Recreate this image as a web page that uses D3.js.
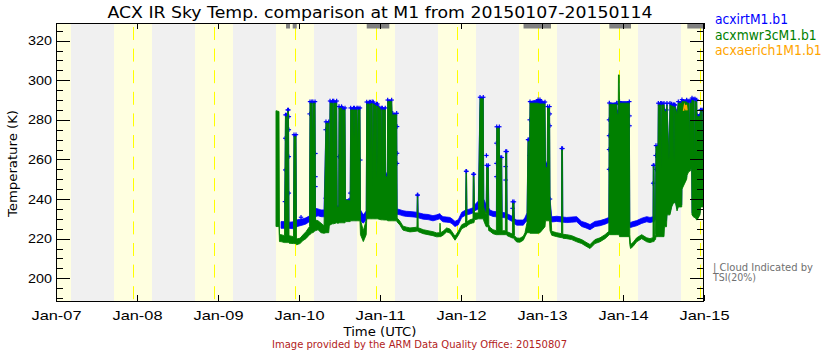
<!DOCTYPE html>
<html>
<head>
<meta charset="utf-8">
<script src="https://cdn.jsdelivr.net/npm/d3@7"></script>
<style>
  html, body { margin: 0; padding: 0; background: #ffffff; }
  svg { display: block; font-family: "DejaVu Sans", sans-serif; }
</style>
</head>
<body>
<svg id="chart" width="840" height="350"></svg>
<script>
// Sample times as fractional day of January 2015 (UTC).
// Each sample carries the min/max of the readings inside that interval.
const sampleDay = [
  9.716, 9.753, 9.759, 9.778, 9.821, 9.833, 9.848, 9.854, 9.860, 9.870,
  9.877, 9.932, 9.938, 9.963, 9.969, 10.012, 10.049, 10.086, 10.130, 10.136,
  10.158, 10.165, 10.172, 10.198, 10.204, 10.235, 10.272, 10.309, 10.333, 10.367,
  10.373, 10.383, 10.415, 10.422, 10.429, 10.465, 10.472, 10.490, 10.494, 10.525,
  10.531, 10.537, 10.568, 10.574, 10.632, 10.638, 10.673, 10.679, 10.685, 10.715,
  10.722, 10.729, 10.753, 10.759, 10.794, 10.830, 10.836, 10.868, 10.875, 10.882,
  10.903, 10.910, 10.917, 10.955, 10.962, 10.969, 11.015, 11.022, 11.029, 11.065,
  11.069, 11.090, 11.095, 11.144, 11.151, 11.157, 11.206, 11.212, 11.247, 11.284,
  11.327, 11.370, 11.420, 11.456, 11.461, 11.467, 11.472, 11.535, 11.593, 11.654,
  11.700, 11.737, 11.741, 11.747, 11.778, 11.823, 11.864, 11.889, 11.926, 11.967,
  12.009, 12.056, 12.062, 12.068, 12.074, 12.111, 12.148, 12.152, 12.160, 12.167,
  12.214, 12.235, 12.275, 12.281, 12.311, 12.317, 12.337, 12.343, 12.358, 12.395,
  12.437, 12.441, 12.473, 12.479, 12.484, 12.502, 12.509, 12.548, 12.552, 12.564,
  12.570, 12.635, 12.638, 12.654, 12.660, 12.688, 12.728, 12.769, 12.790, 12.815,
  12.827, 12.836, 12.843, 12.852, 12.951, 12.975, 13.037, 13.043, 13.065, 13.069,
  13.093, 13.099, 13.120, 13.181, 13.241, 13.243, 13.253, 13.257, 13.305, 13.367,
  13.428, 13.490, 13.543, 13.593, 13.654, 13.716, 13.778, 13.825, 13.831, 13.922,
  13.928, 13.941, 13.944, 13.953, 13.957, 14.078, 14.084, 14.093, 14.123, 14.169,
  14.231, 14.293, 14.333, 14.370, 14.374, 14.383, 14.389, 14.401, 14.407, 14.432,
  14.436, 14.465, 14.472, 14.479, 14.506, 14.512, 14.537, 14.543, 14.568, 14.580,
  14.601, 14.623, 14.630, 14.637, 14.642, 14.667, 14.683, 14.725, 14.728, 14.786,
  14.790, 14.814, 14.821, 14.828, 14.848, 14.852, 14.876, 14.883, 14.890, 14.910,
  14.914, 14.951, 14.957, 14.972, 14.979, 14.986, 15.000
];

// acxmwr3cM1.b1 sky brightness temperature (K), interval min / max
const mwrLow = [
  226.1, 226.1, 218.5, 218.5, 218.0, 218.0, 218.0, 218.0, 218.0, 218.0,
  217.7, 217.5, 217.5, 217.5, 216.9, 217.5, 219.0, 220.0, 222.0, 222.0,
  223.0, 223.0, 223.0, 224.0, 224.0, 224.5, 223.0, 222.7, 223.0, 223.0,
  226.0, 227.0, 227.5, 227.5, 227.5, 228.0, 227.8, 227.8, 228.0, 228.0,
  228.0, 228.0, 228.0, 228.6, 228.6, 229.0, 229.0, 229.0, 229.0, 229.0,
  229.0, 229.0, 229.0, 222.0, 218.5, 222.0, 230.0, 230.0, 230.0, 230.0,
  230.0, 230.0, 230.0, 230.0, 230.0, 230.0, 229.5, 229.5, 229.5, 229.4,
  229.4, 229.4, 229.0, 229.0, 229.0, 229.0, 229.0, 228.4, 226.8, 224.3,
  223.8, 223.4, 223.6, 223.8, 223.8, 223.8, 223.5, 222.5, 222.0, 221.5,
  220.9, 221.0, 221.0, 221.0, 221.7, 223.4, 222.8, 221.5, 219.2, 221.7,
  225.0, 226.0, 226.0, 226.0, 226.5, 227.5, 228.0, 228.0, 228.0, 229.5,
  230.0, 230.0, 230.0, 229.0, 226.0, 226.0, 226.0, 224.0, 223.7, 222.5,
  222.0, 222.0, 222.0, 222.0, 222.0, 222.0, 222.0, 222.0, 222.0, 222.0,
  221.5, 220.3, 220.3, 220.3, 219.5, 218.3, 218.2, 219.2, 221.0, 223.0,
  223.0, 223.0, 223.0, 222.7, 222.7, 223.0, 226.0, 229.0, 229.0, 229.0,
  229.0, 224.0, 221.7, 221.0, 220.5, 220.5, 220.5, 220.2, 220.0, 219.5,
  218.4, 217.5, 216.2, 215.0, 217.5, 218.4, 220.0, 221.7, 222.0, 222.0,
  222.0, 222.0, 222.0, 222.0, 221.0, 221.0, 217.0, 215.0, 216.0, 218.4,
  220.0, 218.4, 218.0, 218.5, 218.5, 218.5, 219.0, 219.5, 221.0, 221.0,
  221.0, 221.0, 221.0, 221.0, 221.0, 226.0, 226.0, 232.0, 232.0, 232.0,
  236.0, 238.0, 238.0, 238.0, 239.6, 234.0, 236.0, 236.0, 245.0, 250.0,
  252.0, 254.0, 254.0, 254.0, 256.0, 232.0, 230.7, 230.7, 230.7, 229.4,
  229.4, 232.0, 236.0, 236.0, 236.0, 236.0, 236.0
];
const mwrHigh = [
  284.6, 284.2, 222.0, 222.0, 221.5, 281.6, 281.6, 222.0, 284.2, 284.2,
  221.5, 221.0, 271.5, 271.5, 219.8, 220.2, 221.9, 223.5, 226.1, 288.4,
  288.4, 262.0, 288.4, 288.4, 229.4, 229.0, 227.8, 226.5, 278.3, 278.3,
  236.0, 288.4, 288.4, 258.0, 288.4, 288.4, 236.0, 236.0, 285.9, 285.9,
  250.0, 285.0, 285.0, 239.6, 239.0, 285.0, 285.0, 270.0, 285.0, 285.0,
  262.0, 285.0, 285.0, 229.4, 224.0, 229.4, 288.0, 288.0, 255.0, 288.0,
  288.4, 245.0, 288.0, 287.0, 250.0, 287.0, 285.0, 248.0, 285.0, 285.0,
  251.3, 251.3, 289.2, 289.2, 279.9, 282.5, 282.5, 230.4, 228.8, 226.3,
  225.8, 225.4, 225.6, 225.8, 241.2, 241.2, 225.5, 224.5, 224.0, 223.5,
  222.9, 223.0, 227.8, 223.0, 223.7, 225.4, 224.8, 223.5, 221.2, 223.7,
  227.0, 228.0, 253.0, 253.0, 228.5, 229.5, 230.0, 251.3, 251.3, 233.0,
  233.0, 290.6, 290.6, 236.0, 232.0, 255.8, 255.8, 227.0, 225.7, 224.5,
  224.0, 275.8, 275.8, 240.0, 260.6, 260.6, 224.0, 224.0, 263.1, 263.1,
  223.5, 222.3, 237.9, 237.9, 221.5, 220.3, 220.2, 221.2, 223.0, 228.0,
  269.0, 269.0, 240.0, 288.4, 288.4, 288.0, 288.0, 256.0, 256.0, 285.9,
  285.9, 240.0, 223.7, 223.0, 222.5, 264.8, 264.8, 222.2, 222.0, 221.5,
  220.4, 219.5, 218.2, 217.0, 219.5, 220.4, 222.0, 223.7, 287.8, 287.8,
  283.0, 283.0, 302.7, 302.7, 288.4, 288.4, 222.0, 217.0, 218.0, 220.4,
  222.0, 220.4, 220.0, 220.5, 256.4, 256.4, 221.0, 222.0, 266.5, 266.5,
  287.5, 287.5, 255.0, 287.5, 287.5, 284.2, 284.2, 287.5, 260.0, 287.5,
  287.0, 286.7, 258.0, 286.6, 286.5, 283.0, 288.4, 288.4, 289.2, 289.0,
  288.4, 288.4, 268.0, 288.4, 288.4, 290.0, 289.5, 250.0, 289.5, 289.0,
  281.6, 281.6, 284.2, 284.2, 247.0, 284.2, 284.2
];

// acxirtM1.b1 IR sky temperature (K), interval min / max (null = no data yet)
const irtLow = [
  null, null, null, 225.2, 225.2, 225.2, 225.2, 225.2, 225.2, 225.2,
  225.2, 225.0, 225.0, 225.0, 226.0, 226.5, 226.9, 227.4, 228.6, 228.6,
  228.8, 228.8, 228.8, 229.0, 231.1, 231.5, 231.1, 231.0, 231.0, 231.0,
  232.0, 232.0, 232.0, 232.0, 232.0, 232.0, 232.0, 232.0, 233.0, 233.0,
  233.0, 233.0, 233.0, 233.7, 233.7, 233.7, 233.7, 233.7, 233.7, 233.5,
  233.5, 233.5, 233.0, 229.0, 227.8, 229.4, 231.0, 231.0, 231.0, 231.0,
  231.0, 231.0, 231.0, 231.0, 231.0, 231.0, 232.0, 232.0, 232.0, 232.0,
  232.0, 232.0, 232.0, 232.0, 232.0, 232.0, 232.0, 232.3, 232.0, 231.5,
  231.2, 231.1, 230.9, 230.7, 230.7, 230.7, 230.5, 229.8, 229.6, 229.0,
  229.5, 230.0, 230.0, 229.5, 228.5, 228.3, 228.1, 227.5, 226.1, 227.0,
  230.7, 231.8, 231.8, 231.8, 232.0, 232.4, 233.0, 233.0, 233.0, 234.0,
  235.0, 236.0, 236.0, 235.0, 233.0, 233.0, 233.0, 232.0, 231.8, 231.2,
  231.0, 231.0, 231.0, 231.0, 231.0, 231.0, 230.7, 230.5, 230.5, 230.5,
  230.0, 228.6, 228.6, 228.6, 227.5, 226.8, 226.8, 226.8, 228.0, 229.0,
  229.0, 229.0, 229.0, 229.0, 229.0, 229.0, 229.5, 230.0, 230.0, 230.0,
  230.0, 230.0, 228.4, 228.7, 228.4, 228.4, 228.4, 228.3, 228.1, 228.3,
  228.5, 226.1, 225.4, 224.5, 226.1, 226.5, 227.3, 228.1, 228.5, 228.5,
  228.5, 228.5, 228.5, 228.5, 228.5, 228.5, 225.6, 225.6, 226.0, 226.5,
  227.7, 228.5, 228.1, 228.5, 228.5, 228.5, 229.0, 229.5, 229.5, 229.5,
  229.0, 229.0, 229.0, 229.0, 229.0, 229.0, 229.0, 233.0, 233.0, 233.0,
  237.0, 238.5, 238.5, 238.5, 240.0, 235.0, 237.0, 237.0, 246.0, 251.0,
  253.0, 255.0, 255.0, 255.0, 257.0, 233.0, 231.5, 231.5, 231.5, 230.0,
  230.0, 233.0, 237.0, 237.0, 237.0, 237.0, 237.0
];
const irtHigh = [
  null, null, null, 228.6, 228.6, 282.5, 282.5, 228.6, 285.0, 285.0,
  228.3, 228.5, 272.5, 272.5, 229.4, 229.8, 230.0, 230.5, 231.5, 289.2,
  289.2, 263.0, 289.2, 289.2, 235.3, 235.0, 234.5, 234.5, 279.0, 279.0,
  236.0, 289.5, 289.5, 259.0, 289.5, 289.5, 236.5, 237.0, 286.7, 286.7,
  252.0, 286.0, 286.0, 239.6, 240.0, 286.0, 286.0, 271.0, 286.0, 286.0,
  263.0, 286.0, 286.0, 234.5, 232.0, 234.0, 289.0, 289.0, 256.0, 289.0,
  289.2, 246.0, 289.0, 288.0, 251.0, 288.0, 286.0, 249.0, 286.0, 286.0,
  252.5, 252.5, 290.0, 290.0, 280.5, 283.3, 283.3, 235.0, 234.6, 234.1,
  233.8, 233.7, 233.5, 233.3, 242.0, 242.0, 233.1, 232.4, 232.2, 231.6,
  232.0, 232.6, 232.6, 232.0, 231.1, 230.9, 230.7, 230.0, 228.7, 229.6,
  233.3, 234.4, 254.0, 254.0, 234.6, 235.0, 235.6, 252.5, 252.5, 237.0,
  239.0, 291.4, 291.4, 240.0, 237.0, 257.0, 257.0, 235.5, 234.4, 233.8,
  233.6, 276.5, 276.5, 240.0, 261.0, 261.0, 233.3, 233.0, 264.0, 264.0,
  232.6, 231.2, 238.6, 238.6, 230.0, 229.4, 229.4, 229.4, 230.7, 233.0,
  270.0, 270.0, 242.0, 289.2, 290.2, 290.2, 289.0, 258.0, 258.0, 286.7,
  286.7, 240.0, 231.0, 231.3, 231.0, 265.5, 265.5, 230.9, 230.7, 230.9,
  231.1, 228.7, 228.0, 227.1, 228.7, 229.1, 229.9, 230.7, 288.5, 288.5,
  284.0, 284.0, 288.0, 288.0, 289.2, 289.2, 228.2, 228.2, 228.6, 229.1,
  230.3, 231.1, 230.7, 231.0, 257.0, 257.0, 231.6, 232.0, 267.0, 267.0,
  288.4, 288.4, 256.0, 288.4, 288.4, 285.0, 285.0, 288.4, 261.0, 288.4,
  288.0, 287.7, 259.0, 287.6, 287.5, 284.0, 289.2, 289.2, 290.2, 290.0,
  289.5, 289.5, 269.0, 289.5, 290.0, 291.0, 290.5, 251.0, 290.5, 290.0,
  282.5, 282.5, 285.0, 285.0, 248.0, 285.0, 285.0
];

// Individual acxirtM1.b1 readings caught during fast transitions
const irtSpotDay = [
  9.826, 9.830, 9.830, 9.875, 9.875, 9.875, 9.875, 10.025, 10.131, 10.203,
  10.203, 10.203, 10.329, 10.329, 10.489, 10.633, 10.757, 11.211, 11.211, 11.211,
  12.314, 12.437, 12.437, 12.437, 12.550, 12.550, 12.636, 12.848, 12.848, 12.848,
  13.097, 13.097, 13.827, 13.827, 13.827, 13.827, 14.081, 14.081, 14.372, 14.403,
  14.403
];
const irtSpotTemp = [
  238.7, 270.7, 254.7, 281.6, 275.0, 261.4, 243.0, 230.8, 283.0, 263.0,
  251.3, 246.3, 275.0, 240.4, 261.4, 243.0, 259.7, 276.6, 263.1, 258.0,
  262.0, 268.2, 258.0, 251.3, 256.4, 249.6, 235.3, 280.0, 270.0, 262.0,
  283.0, 277.0, 280.0, 272.0, 265.0, 255.0, 282.0, 277.0, 248.0, 262.0,
  255.0
];

// acxaerich1M1.b1 (only a brief stretch falls inside the window)
const aeriDay  = [14.747, 14.759, 14.772, 14.781, 14.790];
const aeriTemp = [284.5, 287.3, 285.8, 287.5, 284.8];

// Intervals flagged cloudy by the TSI (20% threshold), fractional day of January
const cloudStart = [9.840, 9.922, 10.836, 12.772, 13.831, 14.794];
const cloudEnd   = [9.889, 9.972, 11.115, 13.111, 14.099, 15.000];

// Axis ticks
const tempTicks  = [200, 220, 240, 260, 280, 300, 320];
const tempMinor  = [190, 195, 205, 210, 215, 225, 230, 235, 245, 250, 255, 265, 270,
                    275, 285, 290, 295, 305, 310, 315, 325];
const dayTicks   = [7, 8, 9, 10, 11, 12, 13, 14, 15];

// Daylight at the site, UTC hours
const sunriseHourUTC = 17.18;
const sunsetHourUTC  = 4.44;
const solarNoonHourUTC = 22.76;

const seriesNames  = ["acxirtM1.b1", "acxmwr3cM1.b1", "acxaerich1M1.b1"];
const seriesColors = ["#0000ff", "#008000", "#ffa500"];

// ---------------------------------------------------------------------------
const dayToDate = d => new Date(Date.UTC(2015, 0, 1) + (d - 1) * 864e5);

const svg = d3.select("#chart");
const m = { left: 56, right: 704, top: 23, bottom: 301 };

const x = d3.scaleUtc().domain([dayToDate(7), dayToDate(15)]).range([m.left, m.right]);
const y = d3.scaleLinear().domain([188.5, 328.9]).range([m.bottom, m.top]);

svg.append("defs").append("clipPath").attr("id", "plotClip")
  .append("rect").attr("x", m.left).attr("y", m.top)
  .attr("width", m.right - m.left).attr("height", m.bottom - m.top);

// night background
svg.append("rect").attr("x", m.left).attr("y", m.top)
  .attr("width", m.right - m.left).attr("height", m.bottom - m.top)
  .attr("fill", "#f0f0f0");

// daylight bands
const dayBands = d3.range(6, 15).map(d => ({
  a: Math.max(7, d + sunriseHourUTC / 24),
  b: Math.min(15, d + 1 + sunsetHourUTC / 24)
})).filter(p => p.b > p.a);

const plot = svg.append("g").attr("clip-path", "url(#plotClip)");

plot.selectAll("rect.day").data(dayBands).join("rect")
  .attr("class", "day")
  .attr("x", p => x(dayToDate(p.a)))
  .attr("width", p => x(dayToDate(p.b)) - x(dayToDate(p.a)))
  .attr("y", m.top).attr("height", m.bottom - m.top)
  .attr("fill", "#ffffe0");

// solar noon markers
plot.selectAll("line.noon").data(d3.range(7, 15)).join("line")
  .attr("class", "noon")
  .attr("x1", d => Math.round(x(dayToDate(d + solarNoonHourUTC / 24))) + 0.5)
  .attr("x2", d => Math.round(x(dayToDate(d + solarNoonHourUTC / 24))) + 0.5)
  .attr("y1", m.top + 4).attr("y2", m.bottom)
  .attr("stroke", "#ffff00").attr("stroke-width", 1)
  .attr("stroke-dasharray", "13,8.6");

// TSI cloud flags along the top
plot.selectAll("rect.cloud").data(cloudStart.map((s, i) => [s, cloudEnd[i]])).join("rect")
  .attr("class", "cloud")
  .attr("x", p => x(dayToDate(p[0])))
  .attr("width", p => x(dayToDate(p[1])) - x(dayToDate(p[0])))
  .attr("y", m.top + 1).attr("height", 4.5)
  .attr("fill", "#808080");

// data rows
const rows = sampleDay.map((t, i) => ({
  t: dayToDate(t),
  gLo: mwrLow[i], gHi: mwrHigh[i],
  bLo: irtLow[i], bHi: irtHigh[i]
}));

// IR thermometer (blue), drawn first
const irtRows = rows.filter(r => r.bLo !== null);
plot.append("path").datum(irtRows)
  .attr("d", d3.area().x(r => x(r.t)).y0(r => y(r.bLo)).y1(r => y(r.bHi)))
  .attr("fill", seriesColors[0]).attr("stroke", seriesColors[0]).attr("stroke-width", 0.8);

const plusPts = irtRows.filter(r => r.bHi - r.bLo > 6).map(r => [r.t, r.bHi])
  .concat(irtSpotDay.map((d, i) => [dayToDate(d), irtSpotTemp[i]]));
const plus = plot.append("g").attr("stroke", seriesColors[0]).attr("stroke-width", 1.2);
plusPts.forEach(p => {
  const cx = x(p[0]), cy = y(p[1]);
  plus.append("line").attr("x1", cx - 2.2).attr("x2", cx + 2.2).attr("y1", cy).attr("y2", cy);
  plus.append("line").attr("x1", cx).attr("x2", cx).attr("y1", cy - 2.2).attr("y2", cy + 2.2);
});

// microwave radiometer (green)
plot.append("path").datum(rows)
  .attr("d", d3.area().x(r => x(r.t)).y0(r => y(r.gLo)).y1(r => y(r.gHi)))
  .attr("fill", seriesColors[1]).attr("stroke", seriesColors[1]).attr("stroke-width", 0.9);

// AERI channel (orange)
plot.append("path").datum(aeriDay.map((t, i) => [dayToDate(t), aeriTemp[i]]))
  .attr("d", d3.line().x(p => x(p[0])).y(p => y(p[1])))
  .attr("fill", "none").attr("stroke", seriesColors[2]).attr("stroke-width", 1.5);

// ---------------------------------------------------------------------------
// axes
const fmtDay = t => d3.utcFormat("%b-%d")(t);
const dayDates = dayTicks.map(dayToDate);

const xBottom = svg.append("g").attr("transform", `translate(0,${m.bottom})`)
  .call(d3.axisBottom(x).tickValues(dayDates).tickFormat(fmtDay).tickSizeInner(-6).tickSizeOuter(0).tickPadding(9.5));
xBottom.selectAll("text").attr("font-size", 13).attr("fill", "#000")
  .attr("textLength", 50).attr("lengthAdjust", "spacingAndGlyphs");

svg.append("g").attr("transform", `translate(0,${m.top})`)
  .call(d3.axisTop(x).tickValues(dayDates).tickFormat("").tickSizeInner(-6).tickSizeOuter(0));

const yLeft = svg.append("g").attr("transform", `translate(${m.left},0)`)
  .call(d3.axisLeft(y).tickValues(tempTicks).tickSizeInner(-14).tickSizeOuter(0).tickPadding(4));
yLeft.selectAll("text").attr("font-size", 13).attr("fill", "#000")
  .attr("textLength", 24).attr("lengthAdjust", "spacingAndGlyphs");
svg.append("g").attr("transform", `translate(${m.left},0)`)
  .call(d3.axisLeft(y).tickValues(tempMinor).tickFormat("").tickSizeInner(-7).tickSizeOuter(0));

svg.append("g").attr("transform", `translate(${m.right},0)`)
  .call(d3.axisRight(y).tickValues(tempTicks).tickFormat("").tickSizeInner(-14).tickSizeOuter(0));
svg.append("g").attr("transform", `translate(${m.right},0)`)
  .call(d3.axisRight(y).tickValues(tempMinor).tickFormat("").tickSizeInner(-7).tickSizeOuter(0));

svg.selectAll(".domain").remove();
svg.selectAll(".tick line").attr("stroke", "#000").attr("shape-rendering", "crispEdges");

// frame
svg.append("rect").attr("x", m.left + 0.5).attr("y", m.top + 0.5)
  .attr("width", m.right - m.left - 1).attr("height", m.bottom - m.top)
  .attr("fill", "none").attr("stroke", "#000").attr("stroke-width", 1)
  .attr("shape-rendering", "crispEdges");

// ---------------------------------------------------------------------------
// text
svg.append("text").attr("x", 380).attr("y", 17.5).attr("text-anchor", "middle")
  .attr("font-size", 16).attr("textLength", 545).attr("lengthAdjust", "spacingAndGlyphs")
  .text("ACX IR Sky Temp. comparison at M1 from 20150107-20150114");

svg.append("text").attr("transform", "translate(16.5,163.5) rotate(-90)")
  .attr("text-anchor", "middle").attr("font-size", 13)
  .attr("textLength", 107).attr("lengthAdjust", "spacingAndGlyphs")
  .text("Temperature (K)");

svg.append("text").attr("x", 380).attr("y", 335.5).attr("text-anchor", "middle")
  .attr("font-size", 13).attr("textLength", 73).attr("lengthAdjust", "spacingAndGlyphs")
  .text("Time (UTC)");

svg.append("text").attr("x", 419.5).attr("y", 347.5).attr("text-anchor", "middle")
  .attr("font-size", 10).attr("fill", "#b22222")
  .attr("textLength", 295).attr("lengthAdjust", "spacingAndGlyphs")
  .text("Image provided by the ARM Data Quality Office: 20150807");

// legend
const legendWidths = [73, 101.7, 106.7];
svg.selectAll("text.legend").data(seriesNames).join("text")
  .attr("class", "legend")
  .attr("x", 715).attr("y", (d, i) => 24 + i * 15.5)
  .attr("font-size", 14).attr("fill", (d, i) => seriesColors[i])
  .attr("textLength", (d, i) => legendWidths[i]).attr("lengthAdjust", "spacingAndGlyphs")
  .text(d => d);

// cloud flag note
const note = svg.append("g").attr("fill", "#707070").attr("font-size", 10);
note.append("text").attr("x", 713).attr("y", 271)
  .attr("textLength", 100).attr("lengthAdjust", "spacingAndGlyphs")
  .text("| Cloud Indicated by");
note.append("text").attr("x", 713).attr("y", 280.7)
  .attr("textLength", 43).attr("lengthAdjust", "spacingAndGlyphs")
  .text("TSI(20%)");
</script>
</body>
</html>
